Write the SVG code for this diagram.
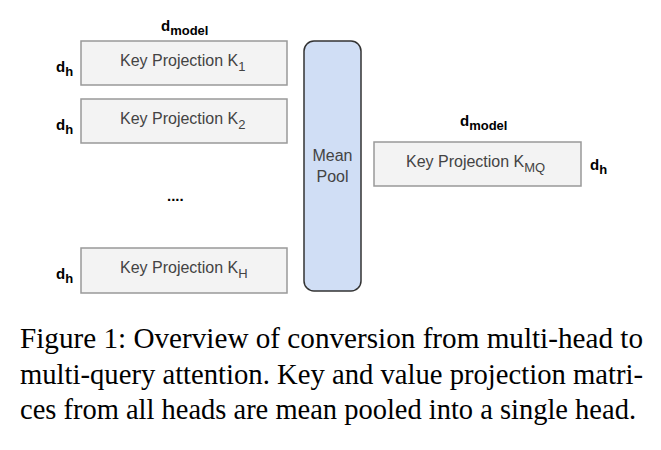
<svg xmlns="http://www.w3.org/2000/svg" width="661" height="450" viewBox="0 0 661 450">
<style>
.box{fill:#f3f3f3;stroke:#999;stroke-width:1.5}
.lbl{font-family:Arial,"Liberation Sans",sans-serif;font-size:16px;fill:#434343}
.dim{font-family:Arial,"Liberation Sans",sans-serif;font-size:15px;font-weight:bold;fill:#000}
.sub{font-size:13px}
.cap{font-family:"Liberation Serif","Times New Roman",serif;font-size:29px;fill:#000}
</style>
<rect width="661" height="450" fill="#fff"/>
<text class="dim" x="161" y="31">d<tspan class="sub" dy="4">model</tspan></text>
<g id="k1">
<rect class="box" x="81" y="41" width="206" height="44"/>
<text class="lbl" x="120" y="66">Key Projection K<tspan class="sub" dy="5">1</tspan></text>
<text class="dim" x="56" y="72">d<tspan class="sub" dy="4">h</tspan></text>
</g>
<g id="k2">
<rect class="box" x="81" y="99" width="206" height="44"/>
<text class="lbl" x="120" y="124">Key Projection K<tspan class="sub" dy="5">2</tspan></text>
<text class="dim" x="56" y="130">d<tspan class="sub" dy="4">h</tspan></text>
</g>
<text class="dim" x="167" y="201">....</text>
<g id="kh">
<rect class="box" x="81" y="248" width="206" height="45"/>
<text class="lbl" x="120" y="273">Key Projection K<tspan class="sub" dy="5">H</tspan></text>
<text class="dim" x="56" y="279">d<tspan class="sub" dy="4">h</tspan></text>
</g>
<g id="pool">
<rect x="304" y="41" width="57" height="250" rx="10" fill="#d0def5" stroke="#333" stroke-width="1.5"/>
<text class="lbl" x="332.5" y="161" text-anchor="middle">Mean</text>
<text class="lbl" x="332.5" y="182" text-anchor="middle">Pool</text>
</g>
<g id="kmq">
<text class="dim" x="460" y="126">d<tspan class="sub" dy="4">model</tspan></text>
<rect class="box" x="374" y="142" width="207" height="44"/>
<text class="lbl" x="406" y="167">Key Projection K<tspan class="sub" dy="5">MQ</tspan></text>
<text class="dim" x="590" y="170">d<tspan class="sub" dy="4">h</tspan></text>
</g>
<g id="connectors"/>
<text class="cap" x="20" y="348" textLength="623" lengthAdjust="spacingAndGlyphs">Figure 1: Overview of conversion from multi-head to</text>
<text class="cap" x="20" y="384" textLength="623" lengthAdjust="spacingAndGlyphs">multi-query attention. Key and value projection matri-</text>
<text class="cap" x="20" y="419" textLength="616" lengthAdjust="spacingAndGlyphs">ces from all heads are mean pooled into a single head.</text>
</svg>
